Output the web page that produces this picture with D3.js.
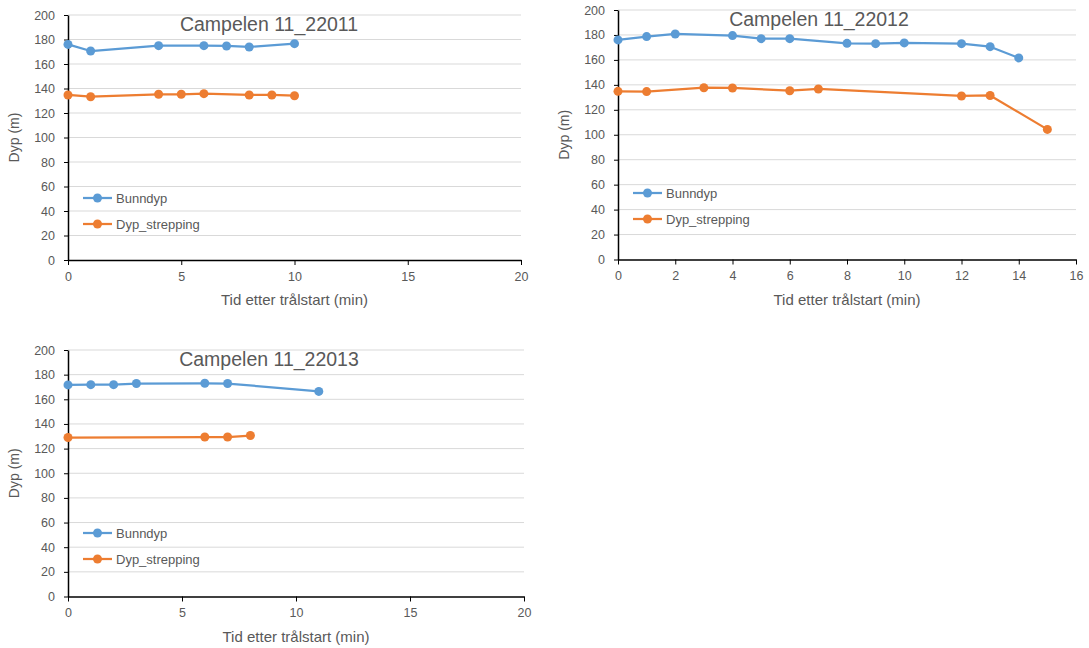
<!DOCTYPE html>
<html>
<head>
<meta charset="utf-8">
<script src="https://cdn.jsdelivr.net/npm/d3@7"></script>
<style>
  html, body { margin: 0; padding: 0; background: #fff; }
  svg { display: block; font-family: "Liberation Sans", Arial, sans-serif; }
</style>
</head>
<body>
<svg id="chart" width="1089" height="648"></svg>
<script>
// Trawl depth logs: bottom depth and stripping depth vs. time after trawl start
const seriesNames = ["Bunndyp", "Dyp_strepping"];
const seriesColors = ["#5B9BD5", "#ED7D31"];
const yTicks = [0, 20, 40, 60, 80, 100, 120, 140, 160, 180, 200];

// Haul 11_22011
const title1 = "Campelen 11_22011";
const bunn1Time = [0, 1, 4, 6, 7, 8, 10];
const bunn1Depth = [176, 170.6, 175, 175, 174.7, 173.9, 176.6];
const strep1Time = [0, 1, 4, 5, 6, 8, 9, 10];
const strep1Depth = [134.7, 133.3, 135.3, 135.3, 135.8, 134.7, 134.7, 134.1];
const xTicks1 = [0, 5, 10, 15, 20];

// Haul 11_22012
const title2 = "Campelen 11_22012";
const bunn2Time = [0, 1, 2, 4, 5, 6, 8, 9, 10, 12, 13, 14];
const bunn2Depth = [176, 178.7, 180.8, 179.5, 177, 177, 173.3, 173, 173.6, 173, 170.6, 161.6];
const strep2Time = [0, 1, 3, 4, 6, 7, 12, 13, 15];
const strep2Depth = [134.8, 134.6, 137.7, 137.5, 135.3, 136.7, 131.1, 131.5, 104.3];
const xTicks2 = [0, 2, 4, 6, 8, 10, 12, 14, 16];

// Haul 11_22013
const title3 = "Campelen 11_22013";
const bunn3Time = [0, 1, 2, 3, 6, 7, 11];
const bunn3Depth = [171.7, 171.9, 171.9, 172.8, 173, 172.8, 166.4];
const strep3Time = [0, 6, 7, 8];
const strep3Depth = [129, 129.4, 129.4, 130.6];
const xTicks3 = [0, 5, 10, 15, 20];

const xTitle = "Tid etter trålstart (min)";
const yTitle = "Dyp (m)";

const svg = d3.select("#chart");
const textColor = "#595959";

function drawPanel(p) {
  const g = svg.append("g");
  const x = d3.scaleLinear().domain([p.xTicks[0], p.xTicks[p.xTicks.length - 1]]).range([p.left, p.right]);
  const y = d3.scaleLinear().domain([0, 200]).range([p.bottom, p.top]);

  // horizontal gridlines
  g.append("g").selectAll("line").data(yTicks.slice(1)).join("line")
    .attr("x1", p.left).attr("x2", p.right)
    .attr("y1", d => y(d)).attr("y2", d => y(d))
    .attr("stroke", "#d9d9d9").attr("stroke-width", 1);

  // y axis
  const yAxis = g.append("g").attr("transform", `translate(${p.left},0)`)
    .call(d3.axisLeft(y).tickValues(yTicks).tickSize(4).tickPadding(9).tickSizeOuter(0));
  yAxis.select(".domain").attr("stroke", "#000").attr("stroke-width", 1.5);
  yAxis.selectAll(".tick line").attr("stroke", "#000").attr("stroke-width", 1);
  yAxis.selectAll(".tick text").attr("fill", textColor).style("font-size", "12.5px")
    .style("font-family", "'Liberation Sans', Arial, sans-serif");

  // x axis
  const xAxis = g.append("g").attr("transform", `translate(0,${p.bottom})`)
    .call(d3.axisBottom(x).tickValues(p.xTicks).tickSize(5).tickPadding(7).tickSizeOuter(0));
  xAxis.select(".domain").attr("stroke", "#000").attr("stroke-width", 1.5);
  xAxis.selectAll(".tick line").attr("stroke", "#000").attr("stroke-width", 1);
  xAxis.selectAll(".tick text").attr("fill", textColor).style("font-size", "12.5px")
    .style("font-family", "'Liberation Sans', Arial, sans-serif");

  // axis titles
  g.append("text")
    .attr("x", (p.left + p.right) / 2).attr("y", p.bottom + 45)
    .attr("text-anchor", "middle").attr("fill", textColor).style("font-size", "15px")
    .text(xTitle);
  g.append("text")
    .attr("transform", `translate(${p.left - 49},${(p.top + p.bottom) / 2}) rotate(-90)`)
    .attr("text-anchor", "middle").attr("fill", textColor).style("font-size", "14px")
    .text(yTitle);

  // chart title
  g.append("text")
    .attr("x", p.left + 201).attr("y", p.top + 16)
    .attr("text-anchor", "middle").attr("fill", textColor).style("font-size", "19.5px")
    .text(p.title);

  // series
  const line = d3.line().x(d => x(d[0])).y(d => y(d[1]));
  p.series.forEach((s, i) => {
    const pts = s.time.map((t, k) => [t, s.depth[k]]);
    g.append("path").datum(pts)
      .attr("d", line).attr("fill", "none")
      .attr("stroke", seriesColors[i]).attr("stroke-width", 2.25)
      .attr("stroke-linejoin", "round");
    g.append("g").selectAll("circle").data(pts).join("circle")
      .attr("cx", d => x(d[0])).attr("cy", d => y(d[1])).attr("r", 4.5)
      .attr("fill", seriesColors[i]);
  });

  // legend
  seriesNames.forEach((name, i) => {
    const ly = p.top + 183 + i * 26;
    const lx = p.left + 15;
    g.append("line").attr("x1", lx).attr("x2", lx + 29).attr("y1", ly).attr("y2", ly)
      .attr("stroke", seriesColors[i]).attr("stroke-width", 2.25);
    g.append("circle").attr("cx", lx + 14.5).attr("cy", ly).attr("r", 4.5).attr("fill", seriesColors[i]);
    g.append("text").attr("x", lx + 33).attr("y", ly + 4.6)
      .attr("fill", textColor).style("font-size", "13px").text(name);
  });
}

drawPanel({
  left: 68, right: 521, top: 15, bottom: 260, xTicks: xTicks1, title: title1,
  series: [{ time: bunn1Time, depth: bunn1Depth }, { time: strep1Time, depth: strep1Depth }]
});
drawPanel({
  left: 618, right: 1076, top: 10, bottom: 259.5, xTicks: xTicks2, title: title2,
  series: [{ time: bunn2Time, depth: bunn2Depth }, { time: strep2Time, depth: strep2Depth }]
});
drawPanel({
  left: 68, right: 524, top: 350, bottom: 596.5, xTicks: xTicks3, title: title3,
  series: [{ time: bunn3Time, depth: bunn3Depth }, { time: strep3Time, depth: strep3Depth }]
});
</script>
</body>
</html>
